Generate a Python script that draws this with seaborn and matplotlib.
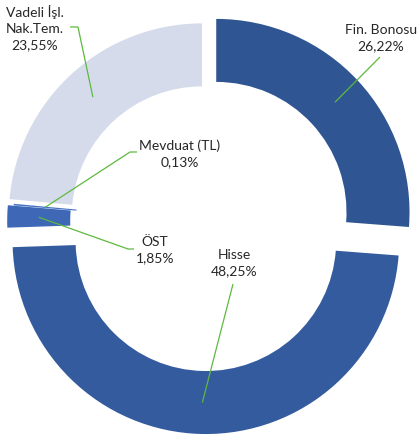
import numpy as np
import matplotlib
matplotlib.use("Agg")
import matplotlib.pyplot as plt
import seaborn as sns

# slice order: clockwise from 12 o'clock
labels = ["Fin. Bonosu", "Hisse", "ÖST", "Mevduat (TL)", "Vadeli İşl.\nNak.Tem."]
shares = [26.22, 48.25, 1.85, 0.13, 23.55]
colors = ["#2F5593", "#335B9E", "#3E67B6", "#4472C4", "#D6DBEC"]
explode = [0.07, 0.10, 0.03, 0.0, 0.033]

sns.set_style("white")
plt.rcParams['font.family'] = ['Lato', 'DejaVu Sans']

W, H = 417, 439
CX, CY, R = 206.3, 222.4, 193.3


def px(x, y):
    return (x - CX) / R, (CY - y) / R


fig = plt.figure(figsize=(W / 100, H / 100), dpi=100)
ax = fig.add_axes([0, 0, 1, 1])
ring = 0.326
wedges, _ = ax.pie(shares, colors=colors, explode=explode, startangle=90,
                   counterclock=False, radius=1,
                   wedgeprops=dict(width=ring, edgecolor='none', linewidth=0))
ax.set_xlim(px(0, 0)[0], px(W, 0)[0])
ax.set_ylim(px(0, H)[1], px(0, 0)[1])
ax.set_aspect('auto')
ax.axis('off')

# label placement (pixel coords of text centre) and leader bends
label_pos = [(381, 38), (234, 263), (155, 250), (180, 154), (35, 28)]
bends = [[(380, 58)], [(233, 285)], [(128, 250), (134, 250)],
         [(130, 153), (137, 153)], [(78, 28), (70, 28)]]

green = "#5DB93F"
for w, lab, val, pos, bend in zip(wedges, labels, shares, label_pos, bends):
    mid = np.deg2rad((w.theta1 + w.theta2) / 2)
    r_mid = 1 - ring / 2
    ox, oy = w.center
    anchor = (ox + r_mid * np.cos(mid), oy + r_mid * np.sin(mid))
    pts = [anchor] + [px(*b) for b in bend]
    xs, ys = zip(*pts)
    ax.plot(xs, ys, color=green, lw=0.9, solid_capstyle='butt')
    txt = f"{lab}\n" + f"{val:.2f}%".replace('.', ',')
    tx, ty = px(*pos)
    ax.text(tx, ty, txt, ha='center', va='center', fontsize=10,
            color='#262626', linespacing=1.38)

fig.savefig("out.png", dpi=100, facecolor='white')
